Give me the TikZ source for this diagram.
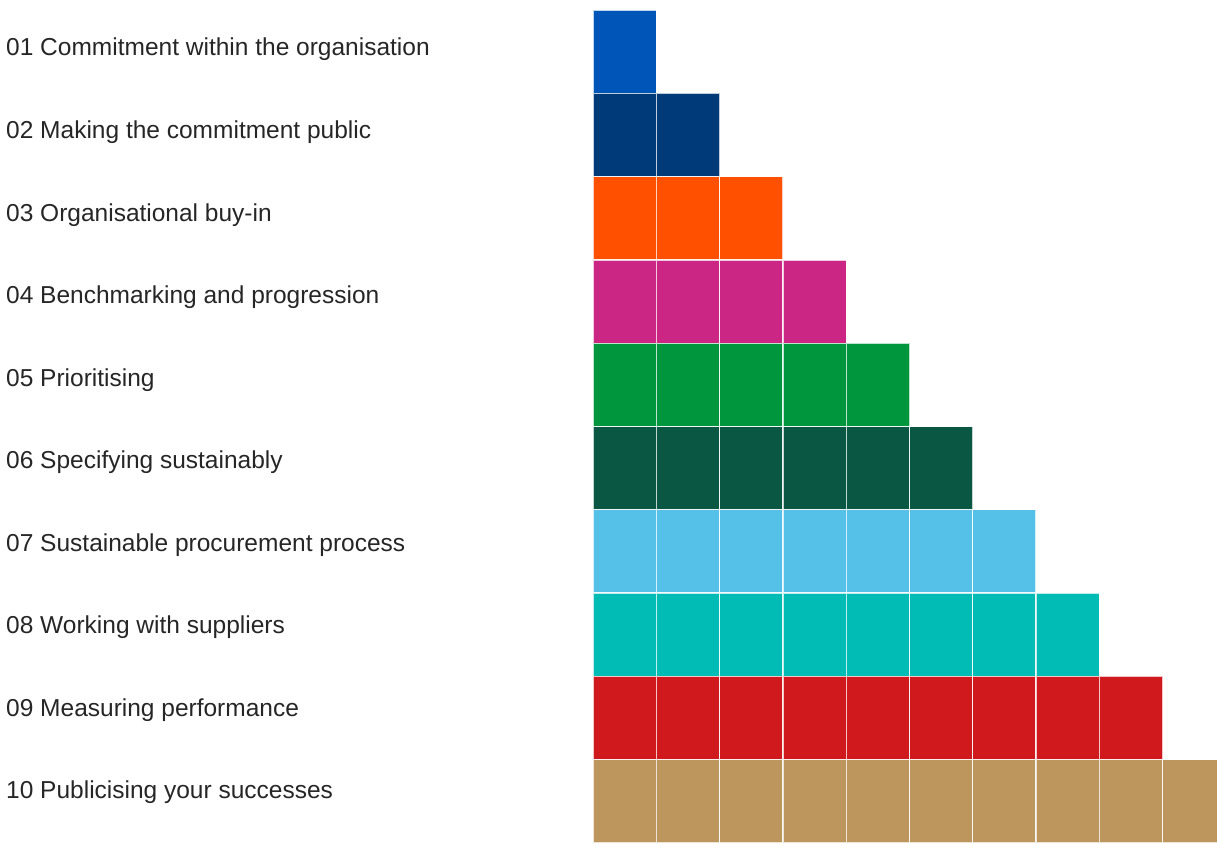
\documentclass[tikz,border=0pt]{standalone}
\usepackage{fontspec}
\setmainfont{Liberation Sans}
\definecolor{c1}{HTML}{0055B8}
\definecolor{c2}{HTML}{003A78}
\definecolor{c3}{HTML}{FF5000}
\definecolor{c4}{HTML}{CC2685}
\definecolor{c5}{HTML}{00963D}
\definecolor{c6}{HTML}{0A5744}
\definecolor{c7}{HTML}{55C0E8}
\definecolor{c8}{HTML}{00BCB4}
\definecolor{c9}{HTML}{D0191D}
\definecolor{c10}{HTML}{BD965E}
\tikzset{
  label text/.style={anchor=base west, inner sep=0pt, font=\fontsize{24.5}{28}\selectfont, text=black!85},
  cell/.style={draw=white, draw opacity=0.75, line width=1.3pt}
}
\begin{document}
\begin{tikzpicture}[x=1pt,y=-1pt]
\useasboundingbox (0,0) rectangle (1217,843);
\clip (0,0) rectangle (1217,843);
\foreach \r/\t in {1/{01 Commitment within the organisation},2/{02 Making the commitment public},3/{03 Organisational buy-in},4/{04 Benchmarking and progression},5/{05 Prioritising},6/{06 Specifying sustainably},7/{07 Sustainable procurement process},8/{08 Working with suppliers},9/{09 Measuring performance},10/{10 Publicising your successes}}{
  \node[label text] (t\r) at (6,{56+82.55*(\r-1)}) {\t};
  \foreach \c in {1,...,\r}{
    \path[cell, fill=c\r] ({593+63.3*(\c-1)},{10+83.3*(\r-1)}) rectangle ++(63.3,83.3);
  }
}
\end{tikzpicture}
\end{document}
